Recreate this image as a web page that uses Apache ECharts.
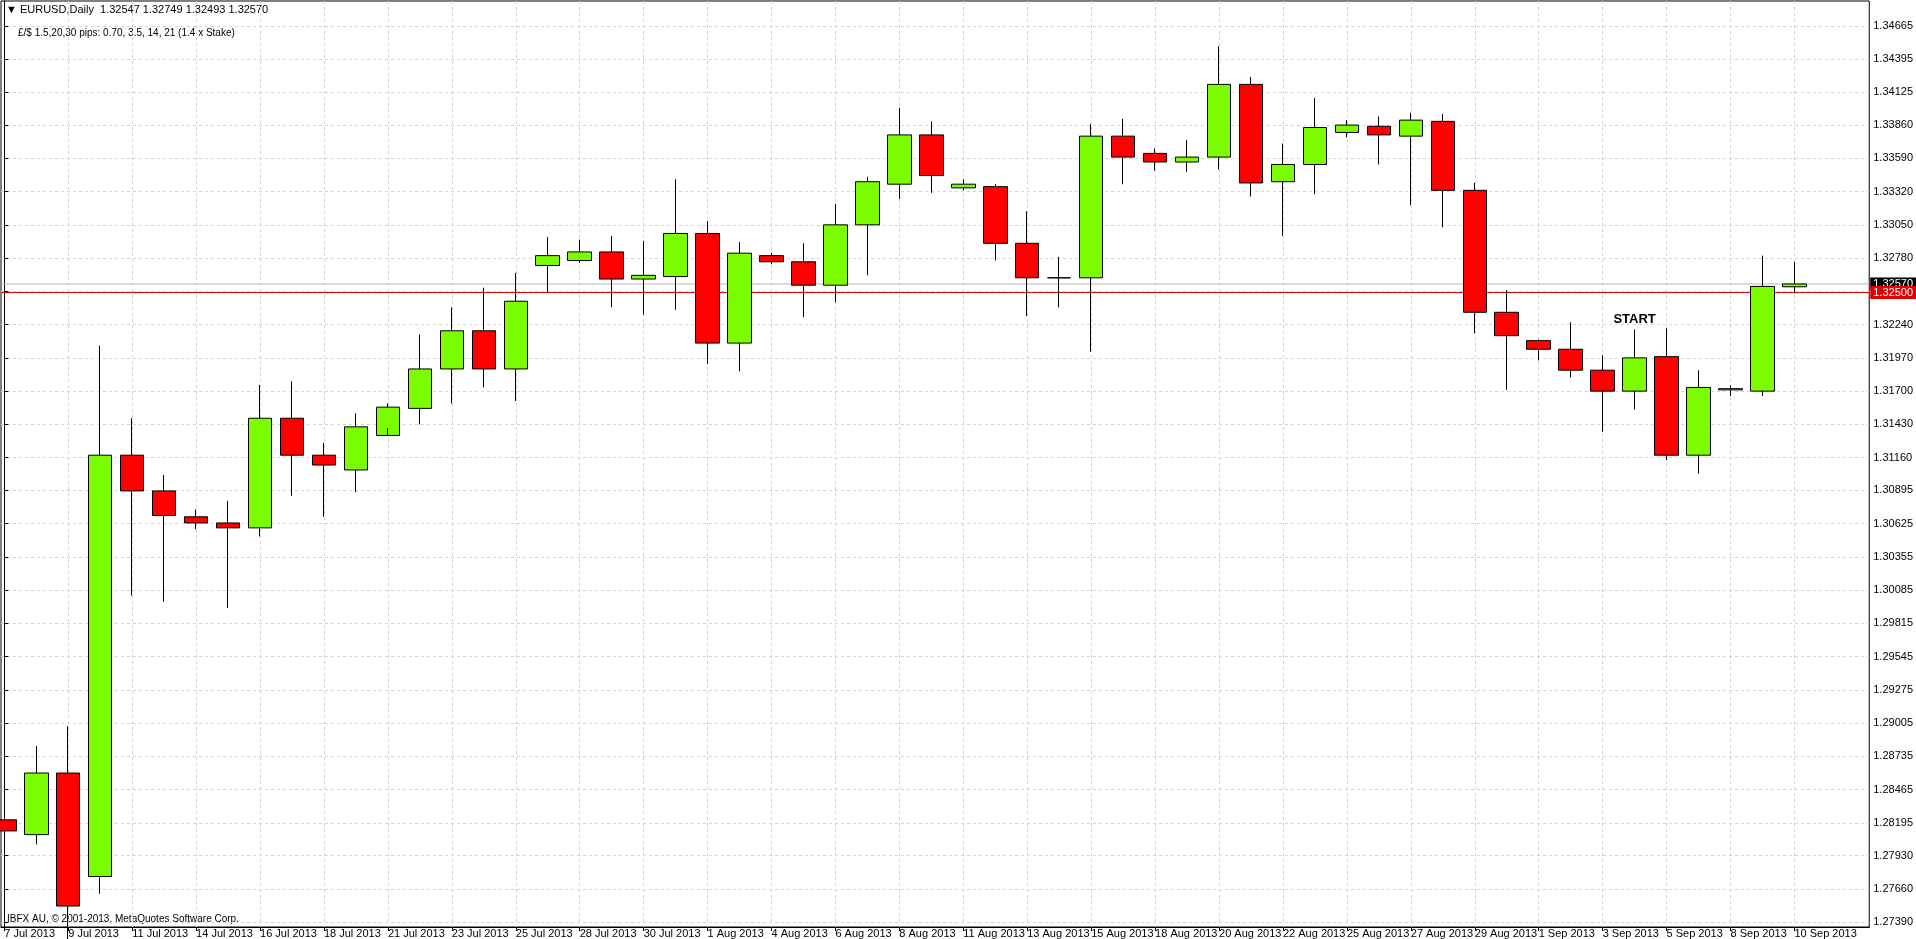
<!DOCTYPE html>
<html>
<head>
<meta charset="utf-8">
<script src="https://cdn.jsdelivr.net/npm/echarts@6/dist/echarts.min.js"></script>
<style>
html, body { margin: 0; padding: 0; background: #fff; }
#chart { width: 1916px; height: 939px; }
</style>
</head>
<body>
<div id="chart"></div>
<script>
var dates = ['7 Jul 2013','8 Jul 2013','9 Jul 2013','10 Jul 2013','11 Jul 2013','12 Jul 2013',
    '14 Jul 2013','15 Jul 2013','16 Jul 2013','17 Jul 2013','18 Jul 2013','19 Jul 2013',
    '21 Jul 2013','22 Jul 2013','23 Jul 2013','24 Jul 2013','25 Jul 2013','26 Jul 2013',
    '28 Jul 2013','29 Jul 2013','30 Jul 2013','31 Jul 2013','1 Aug 2013','2 Aug 2013',
    '4 Aug 2013','5 Aug 2013','6 Aug 2013','7 Aug 2013','8 Aug 2013','9 Aug 2013',
    '11 Aug 2013','12 Aug 2013','13 Aug 2013','14 Aug 2013','15 Aug 2013','16 Aug 2013',
    '18 Aug 2013','19 Aug 2013','20 Aug 2013','21 Aug 2013','22 Aug 2013','23 Aug 2013',
    '25 Aug 2013','26 Aug 2013','27 Aug 2013','28 Aug 2013','29 Aug 2013','30 Aug 2013',
    '1 Sep 2013','2 Sep 2013','3 Sep 2013','4 Sep 2013','5 Sep 2013','6 Sep 2013',
    '8 Sep 2013','9 Sep 2013','10 Sep 2013'];

var opens = [1.2822,1.2810,1.2860,1.2776,1.3118,1.3089,1.3068,1.3063,1.3059,1.3148,1.3118,1.3106,
    1.3134,1.3156,1.3188,1.3219,1.3188,1.3272,1.3276,1.3283,1.3261,1.3263,1.3298,1.3209,
    1.3280,1.3275,1.3256,1.3305,1.3338,1.3378,1.3335,1.3336,1.3290,1.3262,1.3262,1.3377,
    1.3363,1.3356,1.3360,1.3419,1.3340,1.3354,1.3380,1.3385,1.3377,1.3389,1.3333,1.3234,
    1.3211,1.3204,1.3187,1.3170,1.3198,1.3118,1.3171,1.3170,1.32547];
var closes = [1.2813,1.2860,1.2752,1.3118,1.3089,1.3069,1.3063,1.3059,1.3148,1.3118,1.3110,1.3141,
    1.3157,1.3188,1.3219,1.3188,1.3243,1.3280,1.3283,1.3261,1.3264,1.3298,1.3209,1.3282,
    1.3275,1.3256,1.3305,1.3340,1.3378,1.3345,1.3338,1.3290,1.3262,1.3262,1.3377,1.3360,
    1.3356,1.3360,1.3419,1.3339,1.3354,1.3384,1.3386,1.3378,1.3390,1.3333,1.3234,1.3215,
    1.3204,1.3187,1.3170,1.3197,1.3118,1.3173,1.3172,1.3255,1.32570];
var lows = [1.2805,1.2802,1.2725,1.2762,1.3004,1.2999,1.3058,1.2994,1.3052,1.3085,1.3068,1.3088,
    1.3140,1.3143,1.3160,1.3173,1.3162,1.3250,1.3274,1.3238,1.3232,1.3236,1.3192,1.3186,
    1.3273,1.3230,1.3242,1.3264,1.3326,1.3331,1.3333,1.3276,1.3231,1.3238,1.3202,1.3338,
    1.3349,1.3348,1.3350,1.3328,1.3296,1.3330,1.3376,1.3354,1.3321,1.3303,1.3217,1.3171,
    1.3195,1.3181,1.3137,1.3155,1.3114,1.3103,1.3166,1.3166,1.32493];
var highs = [1.2838,1.2882,1.2898,1.3207,1.3148,1.3102,1.3074,1.3081,1.3175,1.3178,1.3128,1.3152,
    1.3160,1.3216,1.3238,1.3254,1.3266,1.3295,1.3293,1.3296,1.3292,1.3342,1.3308,1.3291,
    1.3282,1.3290,1.3322,1.3344,1.3400,1.3389,1.3342,1.3338,1.3316,1.3279,1.3387,1.3391,
    1.3367,1.3374,1.3450,1.3425,1.3371,1.3408,1.3390,1.3393,1.3396,1.3395,1.3339,1.3252,
    1.3212,1.3226,1.3199,1.3220,1.3221,1.3187,1.3175,1.3280,1.32749];

var priceTicks = [1.34665,1.34395,1.34125,1.33860,1.33590,1.33320,1.33050,1.32780,1.32510,
    1.32240,1.31970,1.31700,1.31430,1.31160,1.30895,1.30625,1.30355,1.30085,1.29815,1.29545,
    1.29275,1.29005,1.28735,1.28465,1.28195,1.27930,1.27660,1.27390];
var dateTicks = [];
for (var k = 0; k < dates.length; k += 2) dateTicks.push(k);

var askLine = 1.32570;
var alertLine = 1.32500;
var xMin = -0.103, xMax = 58.34;

var rows = dates.map(function (d, i) {
    return [i, opens[i], closes[i], lows[i], highs[i]];
});

function levelSeries(v, lineColor, bg) {
    return {
        type: 'line',
        data: [[xMin, v], [xMax, v]],
        symbol: 'none',
        silent: true,
        z: 1,
        lineStyle: { color: lineColor, width: 1 },
        endLabel: {
            show: true, distance: 1,
            formatter: v.toFixed(5),
            color: '#fff', backgroundColor: bg, padding: [1, 3],
            fontFamily: font, fontSize: 11
        }
    };
}

var font = 'Liberation Sans';
var chart = echarts.init(document.getElementById('chart'));
chart.setOption({
    animation: false,
    backgroundColor: '#fff',
    grid: { left: 1, right: 40, top: 1, bottom: 9, show: true, borderColor: '#000', borderWidth: 1 },
    graphic: [
        { type: 'text', left: 6, top: 4, style: { text: '\u25BC EURUSD,Daily  1.32547 1.32749 1.32493 1.32570', fontFamily: font, fontSize: 11, fill: '#000' } },
        { type: 'text', left: 18, top: 28, style: { text: '\u00A3/$ 1.5,20,30 pips: 0.70, 3.5, 14, 21 (1.4 x Stake)', fontFamily: font, fontSize: 10, fill: '#000' } },
        { type: 'text', left: 7, top: 914, style: { text: 'IBFX AU, \u00A9 2001-2013, MetaQuotes Software Corp.', fontFamily: font, fontSize: 10, fill: '#000' } }
    ],
    xAxis: {
        type: 'value',
        min: xMin,
        max: xMax,
        axisLine: { lineStyle: { color: '#000' } },
        axisTick: { customValues: dateTicks, length: 4, lineStyle: { color: '#000' } },
        axisLabel: {
            customValues: dateTicks,
            formatter: function (v) { return dates[Math.round(v)] || ''; },
            align: 'left', margin: 1, fontFamily: font, fontSize: 11, color: '#000'
        },
        splitLine: { show: true, lineStyle: { color: '#d4d4d4', type: [3, 3] } }
    },
    yAxis: {
        type: 'value',
        position: 'right',
        min: 1.27350,
        max: 1.34867,
        scale: true,
        axisLine: { show: true, lineStyle: { color: '#000' } },
        axisTick: { show: true, customValues: priceTicks, length: 4, lineStyle: { color: '#000' } },
        axisLabel: {
            customValues: priceTicks,
            formatter: function (v) { return v.toFixed(5); },
            margin: 4, fontFamily: font, fontSize: 11, color: '#000'
        },
        splitLine: { show: true, lineStyle: { color: '#d4d4d4', type: [3, 3] } }
    },
    series: [
        levelSeries(askLine, '#b8b8b8', '#000'),
        levelSeries(alertLine, '#cc0000', '#e00000'),
        {
            type: 'candlestick',
            data: rows,
            encode: { x: 0, y: [1, 2, 3, 4] },
            barWidth: 24,
            clip: false,
            z: 3,
            itemStyle: {
                color: '#7CFC00', color0: '#FF0000',
                borderColor: '#000', borderColor0: '#000', borderWidth: 1
            },
            markPoint: {
                symbol: 'circle', symbolSize: 0,
                data: [{ coord: [51, 1.32280], label: { show: true, formatter: 'START', fontWeight: 'bold', fontSize: 13, fontFamily: font, color: '#000' } }]
            }
        }
    ]
});
</script>
</body>
</html>
